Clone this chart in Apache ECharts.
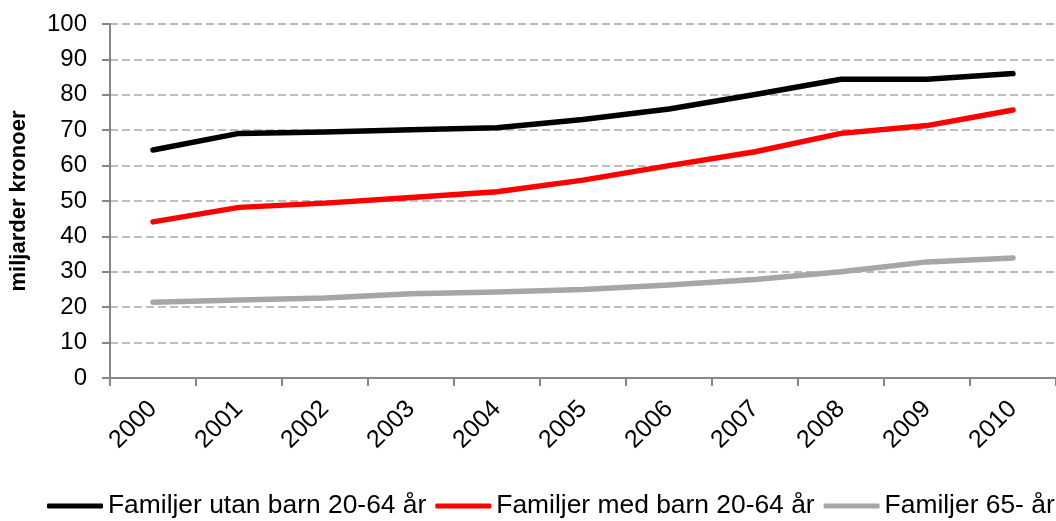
<!DOCTYPE html>
<html>
<head>
<meta charset="utf-8">
<script src="https://cdn.jsdelivr.net/npm/echarts@6/dist/echarts.min.js"></script>
<style>
html,body{margin:0;padding:0;background:#fff;}
#chart{width:1056px;height:521px;}
</style>
</head>
<body>
<div id="chart"></div>
<script>
const years = ['2000','2001','2002','2003','2004','2005','2006','2007','2008','2009','2010'];
const utanBarn = [64.4, 69.1, 69.5, 70.1, 70.7, 73.0, 76.0, 80.1, 84.4, 84.4, 86.0];
const medBarn  = [44.1, 48.2, 49.4, 51.0, 52.6, 55.9, 60.0, 63.9, 69.1, 71.3, 75.7];
const pension  = [21.4, 22.0, 22.6, 23.8, 24.3, 25.0, 26.3, 27.8, 30.0, 32.8, 33.9];
const seriesNames = ['Familjer utan barn 20-64 år','Familjer med barn 20-64 år','Familjer 65- år'];
const yTicks = { min: 0, max: 100, interval: 10 };
const yName = 'miljarder kronoer';

const colors = ['#000000', '#ff0000', '#a6a6a6'];
const font = '"Liberation Sans", Arial, sans-serif';

const chart = echarts.init(document.getElementById('chart'), null, {renderer: 'canvas'});
const mk = (name, data, color) => ({
  name, type: 'line', data, symbol: 'none', smooth: false,
  lineStyle: { color, width: 5.5, cap: 'round', join: 'round' },
  itemStyle: { color },
  emphasis: { disabled: true }
});
chart.setOption({
  animation: false,
  backgroundColor: '#ffffff',
  textStyle: { fontFamily: font },
  grid: { left: 110, right: -8, top: 24, bottom: 143, containLabel: false },
  xAxis: {
    type: 'category', data: years, boundaryGap: true,
    axisLine: { lineStyle: { color: '#868686', width: 2 } },
    axisTick: { show: true, length: 8, lineStyle: { color: '#868686', width: 2 } },
    axisLabel: { rotate: 45, margin: 27, fontSize: 25, color: '#000', fontFamily: font, interval: 0 },
    splitLine: { show: false }
  },
  yAxis: {
    type: 'value', min: yTicks.min, max: yTicks.max, interval: yTicks.interval,
    name: yName, nameLocation: 'middle', nameGap: 80, nameRotate: 90,
    nameTextStyle: { fontSize: 22, fontWeight: 'bold', color: '#000', fontFamily: font },
    axisLine: { show: true, lineStyle: { color: '#868686', width: 2 } },
    axisTick: { show: true, length: 8, lineStyle: { color: '#868686', width: 2 } },
    axisLabel: { margin: 23, fontSize: 24, color: '#000', fontFamily: font },
    splitLine: { show: true, lineStyle: { color: '#bdbdbd', width: 2, type: [8, 4] } }
  },
  legend: {
    bottom: 2, left: 47, itemGap: 9, padding: 0,
    itemWidth: 56, itemHeight: 5, icon: 'roundRect',
    textStyle: { fontSize: 26.4, color: '#000', fontFamily: font },
    data: seriesNames.map((n, i) => ({ name: n, itemStyle: { color: colors[i] } }))
  },
  series: [
    mk(seriesNames[0], utanBarn, colors[0]),
    mk(seriesNames[1], medBarn, colors[1]),
    mk(seriesNames[2], pension, colors[2])
  ]
});
</script>
</body>
</html>
